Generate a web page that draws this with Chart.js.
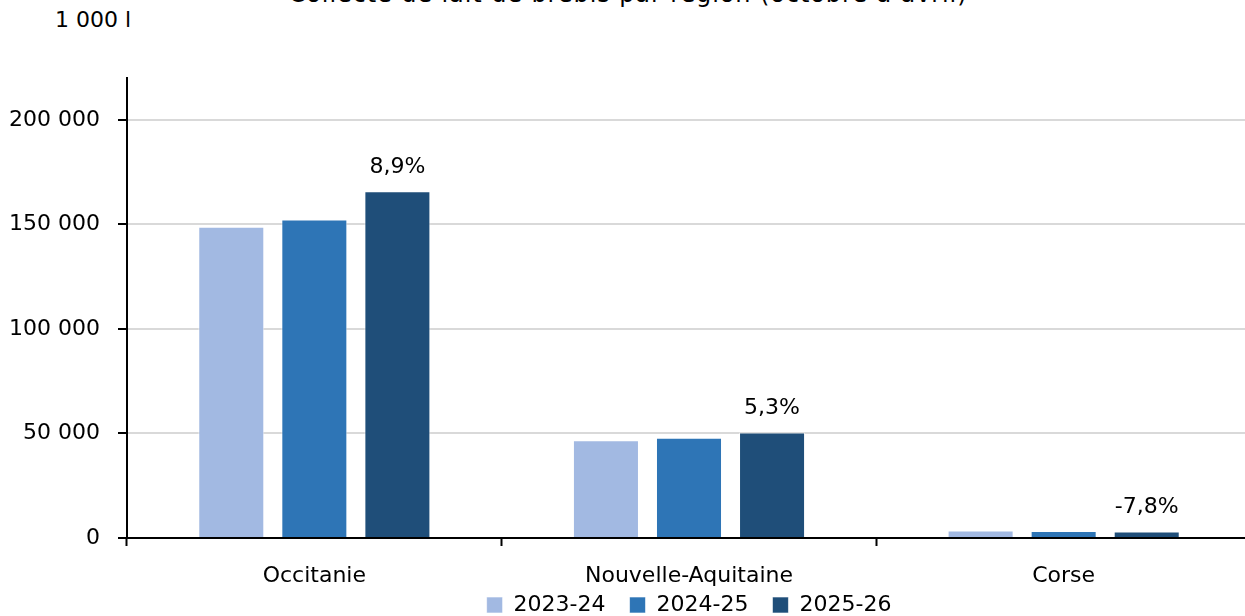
<!DOCTYPE html>
<html>
<head>
<meta charset="utf-8">
<script src="https://cdn.jsdelivr.net/npm/chart.js@4.4.0/dist/chart.umd.min.js"></script>
<style>
  html, body { margin: 0; padding: 0; background: #fff; overflow: hidden; width: 1245px; height: 616px; }
  #title { position: absolute; left: 0; width: 1256px; top: -18px; line-height: 24px; text-align: center; font-family: "DejaVu Sans", sans-serif; font-size: 24px; letter-spacing: 0.9px; color: #000; white-space: nowrap; }
  #unit { position: absolute; left: 55px; top: 9px; line-height: 22px; font-family: "DejaVu Sans", sans-serif; font-size: 22px; color: #000; }
  #wrap { position: absolute; left: 0; top: 0; width: 1251px; height: 646px; }
</style>
</head>
<body>
<div id="title">Collecte de lait de brebis par région (octobre à avril)</div>
<div id="unit">1 000 l</div>
<div id="wrap"><canvas id="c"></canvas></div>
<script>
const categories = ["Occitanie", "Nouvelle-Aquitaine", "Corse"];
const seriesNames = ["2023-24", "2024-25", "2025-26"];
const values2023 = [148900, 46800, 3580];
const values2024 = [152300, 48000, 3340];
const values2025 = [165800, 50500, 3080];
const changeLabels = ["8,9%", "5,3%", "-7,8%"];
const colors = ["#a2b9e2", "#2e75b6", "#1f4e79"];

const FONT = "DejaVu Sans";
const FS = 22;

const labelPlugin = {
  id: "changeLabels",
  afterDatasetsDraw(chart) {
    const meta = chart.getDatasetMeta(2);
    const ctx = chart.ctx;
    ctx.save();
    ctx.font = FS + "px '" + FONT + "'";
    ctx.fillStyle = "#000";
    ctx.textAlign = "center";
    ctx.textBaseline = "middle";
    meta.data.forEach((bar, i) => {
      ctx.fillText(changeLabels[i], bar.x, bar.y - 24);
    });
    ctx.restore();
  }
};

const legendShift = {
  id: "legendShift",
  afterLayout(chart) {
    if (chart.legend) {
      chart.legend.top -= 20;
      chart.legend.bottom -= 20;
    }
  }
};

new Chart(document.getElementById("c"), {
  type: "bar",
  data: {
    labels: categories,
    datasets: [
      { label: seriesNames[0], data: values2023, backgroundColor: colors[0], borderColor: "rgba(255,255,255,0.6)", borderWidth: 1 },
      { label: seriesNames[1], data: values2024, backgroundColor: colors[1], borderColor: "rgba(255,255,255,0.6)", borderWidth: 1 },
      { label: seriesNames[2], data: values2025, backgroundColor: colors[2], borderColor: "rgba(255,255,255,0.6)", borderWidth: 1 }
    ]
  },
  options: {
    responsive: true,
    maintainAspectRatio: false,
    animation: false,
    layout: { padding: { top: 78, left: 0, right: 0, bottom: 0 } },
    datasets: { bar: { categoryPercentage: 0.665, barPercentage: 0.795 } },
    plugins: {
      title: { display: false },
      tooltip: { enabled: false },
      legend: {
        position: "bottom",
        fullSize: false,
        labels: {
          font: { family: FONT, size: FS },
          color: "#000",
          boxWidth: 16,
          boxHeight: 16,
          padding: 24
        }
      }
    },
    scales: {
      x: {
        grid: { display: true, drawOnChartArea: false, drawTicks: true, tickLength: 8, tickColor: "#000", tickWidth: 2 },
        border: { display: true, color: "#000", width: 2 },
        ticks: { font: { family: FONT, size: FS }, color: "#000", padding: 17 },
        afterFit(scale) { scale.height = 52; }
      },
      y: {
        min: 0,
        max: 220000,
        afterBuildTicks(scale) {
          scale.ticks = scale.ticks.filter(t => t.value % 50000 === 0);
        },
        ticks: {
          stepSize: 10000,
          font: { family: FONT, size: FS },
          color: "#000",
          padding: 18,
          callback: (v) => v === 0 ? "0" : String(v).replace(/\B(?=(\d{3})+(?!\d))/g, " ")
        },
        grid: { color: "#d9d9d9", lineWidth: 2, tickLength: 9, tickColor: "#000", tickWidth: 2 },
        border: { display: true, color: "#000", width: 2 },
        afterFit(scale) { scale.width = 127; }
      }
    }
  },
  plugins: [labelPlugin, legendShift]
});
</script>
</body>
</html>
